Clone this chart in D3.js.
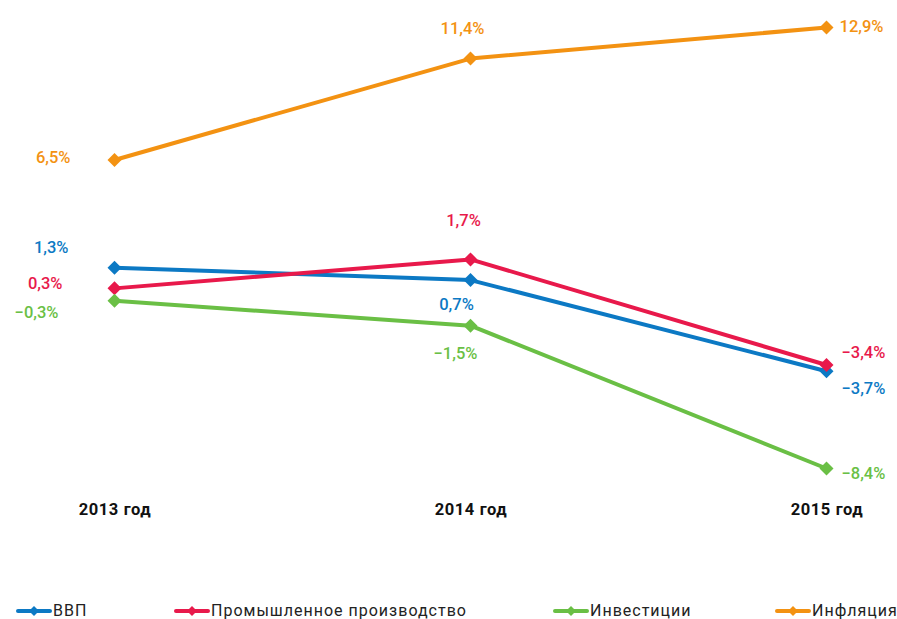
<!DOCTYPE html>
<html><head><meta charset="utf-8">
<script src="https://cdn.jsdelivr.net/npm/d3@7"></script>
<style>body{margin:0;background:#fff}</style>
</head><body>
<svg id="c" width="897" height="619"></svg>
<script>
const years = ["2013 год", "2014 год", "2015 год"];
const seriesNames = ["ВВП", "Промышленное производство", "Инвестиции", "Инфляция"];
const gdp = [1.3, 0.7, -3.7];
const industry = [0.3, 1.7, -3.4];
const investment = [-0.3, -1.5, -8.4];
const inflation = [6.5, 11.4, 12.9];
const colors = ["#0c79c4", "#e8194b", "#6abf45", "#f39212"];

// label layout (offsets relative to the point), per series, per year
const labelLayout = [
  [{a:"end",dx:-46,dy:-21},{a:"middle",dx:-14,dy:24},{a:"start",dx:15,dy:17}],
  [{a:"end",dx:-52,dy:-5},{a:"middle",dx:-7,dy:-39},{a:"start",dx:15,dy:-13}],
  [{a:"end",dx:-56,dy:11},{a:"middle",dx:-15,dy:27},{a:"start",dx:15,dy:5}],
  [{a:"end",dx:-44,dy:-3},{a:"middle",dx:-8,dy:-30},{a:"start",dx:13,dy:-1}]
];
const legendX = [18, 176, 555, 777];

const series = [gdp, industry, investment, inflation];
const svg = d3.select("#c");
const font = "Roboto, 'DejaVu Sans', sans-serif";

const x = d3.scalePoint().domain(years).range([114.5, 826.5]);
const y = d3.scaleLinear().domain([-8.4, 12.9]).range([468.5, 27.5]);

const fmt = v => (v < 0 ? "−" : "") + Math.abs(v).toFixed(1).replace(".", ",") + "%";
const diamondPath = r => `M0,${-r}L${r},0L0,${r}L${-r},0Z`;

const line = d3.line().x((d, i) => x(years[i])).y(d => y(d));

series.forEach((vals, s) => {
  const g = svg.append("g");
  g.append("path").attr("d", line(vals)).attr("fill", "none")
    .attr("stroke", colors[s]).attr("stroke-width", 4).attr("stroke-linejoin", "round");
  vals.forEach((v, i) => {
    const px = x(years[i]), py = y(v);
    g.append("path").attr("d", diamondPath(7))
      .attr("transform", `translate(${px},${py})`).attr("fill", colors[s]);
    const L = labelLayout[s][i];
    g.append("text").attr("x", px + L.dx).attr("y", py + L.dy)
      .attr("dy", "0.36em").attr("text-anchor", L.a)
      .attr("font-family", font).attr("font-size", 16.5).attr("font-weight", 500)
      .attr("fill", colors[s]).text(fmt(v));
  });
});

// x axis labels
const xAxis = d3.axisBottom(x).tickSize(0).tickPadding(0);
const ax = svg.append("g").attr("transform", "translate(0,503)").call(xAxis);
ax.select(".domain").remove();
ax.selectAll("text").attr("font-family", font).attr("font-size", 16.5)
  .attr("font-weight", 700).attr("fill", "#111").attr("letter-spacing", 0.6);

// legend
const lg = svg.append("g").attr("transform", "translate(0,611)");
seriesNames.forEach((n, s) => {
  const lx = legendX[s];
  lg.append("line").attr("x1", lx).attr("x2", lx + 32).attr("y1", 0).attr("y2", 0)
    .attr("stroke", colors[s]).attr("stroke-width", 4).attr("stroke-linecap", "round");
  lg.append("path").attr("d", diamondPath(5))
    .attr("transform", `translate(${lx + 16},0)`).attr("fill", colors[s]);
  lg.append("text").attr("x", lx + 35).attr("y", 4.5)
    .attr("font-family", font).attr("font-size", 16).attr("letter-spacing", 1)
    .attr("fill", "#222").text(n);
});
</script>
</body></html>
